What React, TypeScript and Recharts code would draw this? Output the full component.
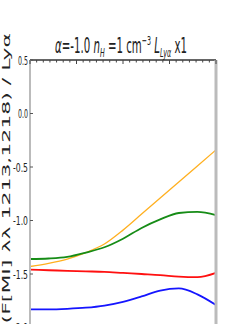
import React from 'react';
import { LineChart, Line, XAxis, YAxis } from 'recharts';

// x positions (arbitrary units, spread across the panel)
const xs = [0, 0.1, 0.2, 0.3, 0.4, 0.5, 0.6, 0.7, 0.8, 0.9, 1.0];

const orange = [-1.43, -1.4, -1.36, -1.3, -1.22, -1.09, -0.94, -0.79, -0.64, -0.49, -0.34];
const green = [-1.36, -1.355, -1.34, -1.3, -1.25, -1.17, -1.07, -0.99, -0.93, -0.92, -0.95];
const red = [-1.46, -1.465, -1.47, -1.475, -1.48, -1.49, -1.5, -1.51, -1.525, -1.53, -1.49];
const blue = [-1.83, -1.83, -1.825, -1.815, -1.795, -1.76, -1.71, -1.655, -1.635, -1.69, -1.79];

// labelled ticks every 0.5, minor ticks every 0.1 on the right edge
const yMajor = [0.5, 0.0, -0.5, -1.0, -1.5, -2.0, -2.5];
const yMinor = Array.from({ length: 31 }, (_, i) => (5 - i) / 10);
const xTicks = Array.from({ length: 29 }, (_, i) => i / 28);

const data = xs.map((x, i) => ({
  x,
  orange: orange[i],
  green: green[i],
  red: red[i],
  blue: blue[i],
}));

const isMajor = (v: number) => Math.abs(v * 2 - Math.round(v * 2)) < 1e-6;
const fmt = (v: number) => (v < 0 ? '-' + Math.abs(v).toFixed(1) : v.toFixed(1));

function LeftTick({ x, y, payload }: any) {
  const v = Number(payload.value);
  return (
    <g>
      <line x1={x} x2={x + 3} y1={y} y2={y} stroke="#555" strokeWidth={1} />
      <text
        x={x - 2}
        y={y}
        textAnchor="end"
        dy="0.36em"
        fontSize={13}
        fill="#222"
        fontFamily="DejaVu Sans"
        textLength={v < 0 ? 15 : 10}
        lengthAdjust="spacingAndGlyphs"
      >
        {fmt(v)}
      </text>
    </g>
  );
}

function RightTick({ x, y, payload }: any) {
  const major = isMajor(Number(payload.value));
  return <line x1={x - (major ? 3 : 2)} x2={x + 1} y1={y} y2={y} stroke="#333" strokeWidth={1} />;
}

function TopTick({ x, y, index }: any) {
  const major = index % 7 === 0;
  return <line x1={x} x2={x} y1={y} y2={y + (major ? 4 : 2.5)} stroke="#444" strokeWidth={1} />;
}

export default function App() {
  return (
    <div style={{ position: 'absolute', left: 0, top: 0, width: 240, height: 324, overflow: 'hidden', background: '#fff' }}>
      <LineChart width={240} height={381} data={data} margin={{ top: 0, right: 0, left: 0, bottom: 0 }}>
        <XAxis
          dataKey="x"
          type="number"
          domain={[0, 1]}
          ticks={xTicks}
          orientation="top"
          height={60}
          tickSize={0}
          tickMargin={0}
          tickLine={false}
          tick={<TopTick />}
          axisLine={{ stroke: '#333', strokeWidth: 1.5 }}
          interval={0}
        />
        <YAxis
          yAxisId="l"
          type="number"
          domain={[-2.5, 0.5]}
          ticks={yMajor}
          width={30}
          tickSize={0}
          tickMargin={0}
          tickLine={false}
          tick={<LeftTick />}
          axisLine={{ stroke: '#bbb', strokeWidth: 2 }}
          interval={0}
        />
        <YAxis
          yAxisId="r"
          orientation="right"
          type="number"
          domain={[-2.5, 0.5]}
          ticks={yMinor}
          width={24}
          tickSize={0}
          tickMargin={0}
          tickLine={false}
          tick={<RightTick />}
          axisLine={{ stroke: '#bbb', strokeWidth: 3 }}
          interval={0}
        />
        <Line yAxisId="l" type="monotone" dataKey="orange" stroke="#ffb020" strokeWidth={1.3} dot={false} isAnimationActive={false} />
        <Line yAxisId="l" type="monotone" dataKey="green" stroke="#168c16" strokeWidth={1.8} dot={false} isAnimationActive={false} />
        <Line yAxisId="l" type="monotone" dataKey="red" stroke="#ff1010" strokeWidth={1.8} dot={false} isAnimationActive={false} />
        <Line yAxisId="l" type="monotone" dataKey="blue" stroke="#1515ff" strokeWidth={1.8} dot={false} isAnimationActive={false} />
      </LineChart>
      <svg width={240} height={324} style={{ position: 'absolute', left: 0, top: 0, pointerEvents: 'none' }}>
        <text x={121} y={53} textAnchor="middle" fontSize={21} fill="#222" fontFamily="DejaVu Sans" textLength={132} lengthAdjust="spacingAndGlyphs">
          <tspan fontStyle="italic">α</tspan>=-1.0 <tspan fontStyle="italic">n</tspan>
          <tspan dy={4} fontSize={13} fontStyle="italic">H</tspan>
          <tspan dy={-4}> =1 cm</tspan>
          <tspan dy={-8} fontSize={13}>−3</tspan>
          <tspan dy={8}> </tspan>
          <tspan fontStyle="italic">L</tspan>
          <tspan dy={4} fontSize={13} fontStyle="italic">Lyα</tspan>
          <tspan dy={-4}> x1</tspan>
        </text>
        <g transform="translate(6,33) rotate(-90)">
          <text transform="scale(1,0.45)" textAnchor="end" dy="0.36em" fontSize={22} fill="#222" fontFamily="DejaVu Sans">
            log(F[MI] λλ 1213,1218) / Lyα
          </text>
        </g>
      </svg>
    </div>
  );
}
